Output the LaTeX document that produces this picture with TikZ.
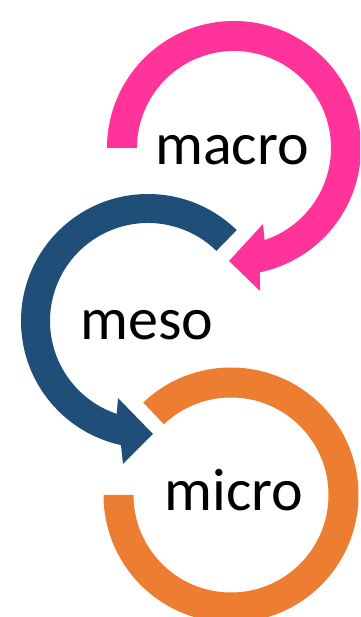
\documentclass[tikz,border=0pt]{standalone}
\usepackage{fontspec}
\setmainfont{Carlito}
\usetikzlibrary{calc}
\definecolor{pinkc}{HTML}{FF3399}
\definecolor{bluec}{HTML}{1F4E79}
\definecolor{orangec}{HTML}{ED7D31}
\begin{document}
\begin{tikzpicture}[x=1pt,y=1pt,
  lbl/.style={font=\fontsize{60}{72}\selectfont, inner sep=0pt, anchor=base, text=black}]
\useasboundingbox (0,0) rectangle (360,617);
\clip (0,0) rectangle (360,617);
\fill[white] (0,0) rectangle (360,617);
% orange ring (micro)
\coordinate (oc) at (231,122);
\fill[orangec] ($(oc)+(133.5:127.5)$) arc[start angle=133.5, end angle=-180, radius=127.5]
  -- ($(oc)+(180:97.5)$) arc[start angle=-180, end angle=133.5, radius=97.5] -- cycle;
% blue arrow (meso)
\coordinate (bc) at (148,296);
\coordinate (bob) at (123,153);
\coordinate (btip) at (153,183);
\coordinate (bib) at (118,219);
\fill[bluec] ($(bc)+(45.7:127)$) arc[start angle=45.7, end angle=257.7, radius=127]
  -- (bob) -- (btip) -- (bib)
  -- ($(bc)+(251.4:98)$) arc[start angle=251.4, end angle=45.7, radius=98] -- cycle;
% pink arrow (macro)
\coordinate (pc) at (234,469);
\coordinate (pob) at (260,326);
\coordinate (ptip) at (229,356);
\coordinate (pib) at (263,393);
\fill[pinkc] ($(pc)+(180:127)$) arc[start angle=180, end angle=-78.2, radius=127]
  -- (pob) -- (ptip) -- (pib)
  -- ($(pc)+(-71.6:97)$) arc[start angle=-71.6, end angle=180, radius=97] -- cycle;
% labels
\node[lbl] (macro) at (232,452) {macro};
\node[lbl] (meso) at (146.7,277.7) {meso};
\node[lbl] (micro) at (234,106.3) {micro};
\end{tikzpicture}
\end{document}
